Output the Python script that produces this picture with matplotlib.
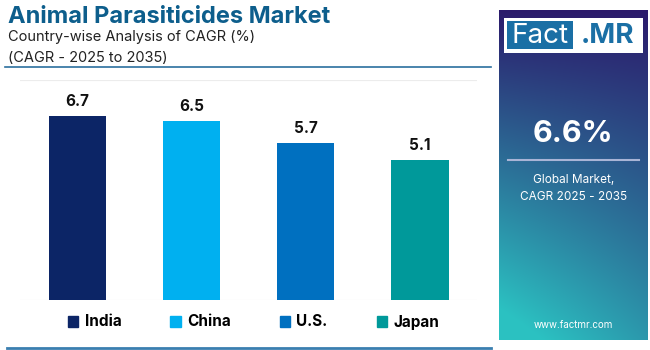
import numpy as np
import matplotlib

matplotlib.use("Agg")
from matplotlib import pyplot as plt
from matplotlib.patches import Rectangle

countries = ["India", "China", "U.S.", "Japan"]
cagr_values = [6.7, 6.5, 5.7, 5.1]
bar_colors = ["#0c2566", "#00b0f0", "#0070c0", "#00999a"]
global_cagr = "6.6%"

plt.rcParams["font.family"] = ["Inter", "DejaVu Sans"]

fig = plt.figure(figsize=(6.5, 3.5), dpi=100)
fig.patch.set_facecolor("white")

# header
fig.text(0.012, 0.952, "Animal Parasiticides Market", fontsize=17, fontweight="bold",
         color="#0d5e8c", va="center", ha="left")
fig.text(0.012, 0.893, "Country-wise Analysis of CAGR (%)", fontsize=10.5, color="#222222",
         va="center", ha="left")
fig.text(0.012, 0.835, "(CAGR - 2025 to 2035)", fontsize=10.5, color="#222222",
         va="center", ha="left")
fig.add_artist(plt.Line2D([0.008, 0.755], [0.808, 0.808], color="#2b6f9e", linewidth=1.2))
fig.add_artist(plt.Line2D([0.01, 0.755], [0.006, 0.006], color="#3a7fb0", linewidth=2))

# bar chart
ax = fig.add_axes([0.031, 0.143, 0.703, 0.629])
x = np.arange(len(countries))
bars = ax.bar(x, cagr_values, width=0.5, color=bar_colors, zorder=3)
ax.set_xlim(-0.5, len(countries) - 0.5)
ax.set_ylim(0, 8)
ax.set_yticks([0, 8])
ax.grid(axis="y", color="#ececec", linewidth=0.8, zorder=0)
ax.tick_params(left=False, bottom=False, labelleft=False, labelbottom=False)
for side in ax.spines.values():
    side.set_visible(False)
for bar, val in zip(bars, cagr_values):
    ax.text(bar.get_x() + bar.get_width() / 2, val + 0.25, f"{val}", ha="center", va="bottom",
            fontsize=11, fontweight="bold", color="#111111")

# legend
handles = [Rectangle((0, 0), 1, 1, color=c) for c in bar_colors]
leg = fig.legend(handles, countries, loc="center", bbox_to_anchor=(0.39, 0.08), ncol=4,
                 frameon=False, handlelength=0.7, handleheight=0.7, columnspacing=3.2,
                 handletextpad=0.4, prop={"weight": "bold", "size": 11})

# right panel with diagonal gradient (dark purple top-right -> teal bottom-left)
pax = fig.add_axes([0.768, 0.028, 0.228, 0.944])
u = np.linspace(0, 1, 120)[None, :]
v = np.linspace(0, 1, 300)[:, None]
t = np.clip(0.75 * v + 0.35 * (1 - u) * v, 0, 1)
top = np.array([0.17, 0.10, 0.42])
bottom = np.array([0.17, 0.76, 0.76])
img = top + (bottom - top) * t[:, :, None]
pax.imshow(img, aspect="auto", extent=[0, 1, 0, 1], origin="upper")
pax.set_xlim(0, 1)
pax.set_ylim(0, 1)
pax.axis("off")

# logo
pax.add_patch(Rectangle((0.03, 0.87), 0.94, 0.105, facecolor="white", edgecolor="none"))
pax.add_patch(Rectangle((0.05, 0.88), 0.45, 0.085, facecolor="#1a6fa5", edgecolor="none"))
pax.text(0.275, 0.922, "Fact", color="white", fontsize=20, ha="center", va="center")
pax.text(0.73, 0.922, ".MR", color="#1a6fa5", fontsize=20, fontweight="bold", ha="center", va="center")

pax.text(0.5, 0.625, global_cagr, color="white", fontsize=22, fontweight="bold", ha="center", va="center")
pax.plot([0.06, 0.94], [0.545, 0.545], color="#a9b4d6", linewidth=1.5)
pax.text(0.5, 0.46, "Global Market,\nCAGR 2025 - 2035", color="white", fontsize=8.5, ha="center",
         va="center", linespacing=1.6)
pax.text(0.5, 0.045, "www.factmr.com", color="white", fontsize=7, ha="center", va="center")

fig.savefig("out.png", dpi=100, facecolor="white")
